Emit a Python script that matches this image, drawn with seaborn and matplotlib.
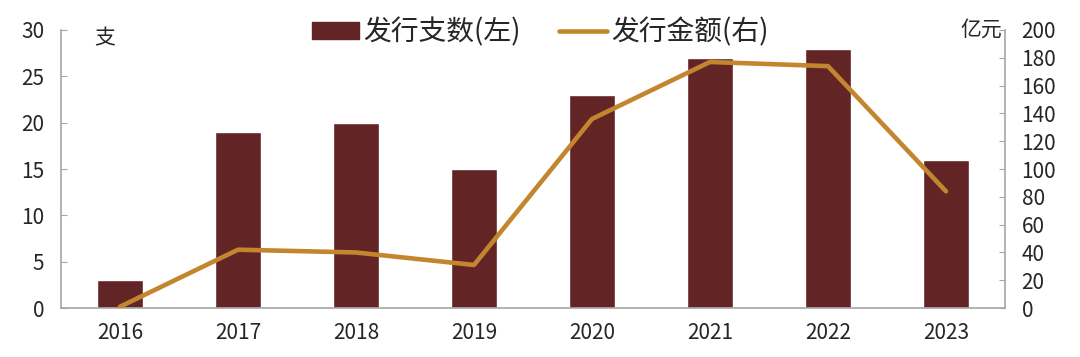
import matplotlib
matplotlib.use("Agg")
import matplotlib.pyplot as plt
import numpy as np
import pandas as pd
import seaborn as sns
from matplotlib.lines import Line2D
from matplotlib.patches import Patch

years = ["2016", "2017", "2018", "2019", "2020", "2021", "2022", "2023"]
counts = [3, 19, 20, 15, 23, 27, 28, 16]
amounts = [1, 42, 40, 31, 136, 177, 174, 84]

BAR_COLOR = "#632426"
LINE_COLOR = "#C3862F"
SPINE_COLOR = "#A6A6A6"

sns.set_style("white")
plt.rcParams["font.family"] = ["Noto Sans CJK SC", "DejaVu Sans"]

df = pd.DataFrame({"year": years, "pos": np.arange(len(years)),
                   "count": counts, "amount": amounts})

fig = plt.figure(figsize=(10.8, 3.57), dpi=100)
ax = fig.add_axes([0.0565, 0.137, 0.874, 0.779])

sns.barplot(data=df, x="pos", y="count", color=BAR_COLOR, width=0.39,
            saturation=1, ax=ax, native_scale=True)
ax.set_xlim(-0.5, len(years) - 0.5)
ax.set_ylim(0, 30)
ax.set_yticks(np.arange(0, 31, 5))

ax2 = ax.twinx()
sns.lineplot(data=df, x="pos", y="amount", color=LINE_COLOR, linewidth=3.3,
             ax=ax2)
ax2.set_ylim(0, 200)
ax2.set_yticks(np.arange(0, 201, 20))
ax.set_xlim(-0.5, len(years) - 0.5)

# category boundaries as ticks, labels at centres
ax.set_xticks(np.arange(0.5, len(years) - 0.5, 1))
ax.set_xticklabels([])
ax.set_xticks(np.arange(len(years)), minor=True)
ax.set_xticklabels(years, minor=True)
ax.tick_params(axis="x", which="major", direction="in", length=6,
               color=SPINE_COLOR, width=1)
ax.tick_params(axis="x", which="minor", length=0, pad=10, labelsize=15)
ax.tick_params(axis="y", direction="in", length=4, color=SPINE_COLOR,
               labelsize=15, pad=12)
ax2.tick_params(axis="y", direction="in", length=4, color=SPINE_COLOR,
                labelsize=15, pad=12)

for a in (ax, ax2):
    a.set_xlabel("")
    a.set_ylabel("")
    a.spines["top"].set_visible(False)
    for s in ("left", "right", "bottom"):
        a.spines[s].set_color(SPINE_COLOR)
        a.spines[s].set_linewidth(1.2)
ax.spines["right"].set_visible(False)
ax2.spines["left"].set_visible(False)
ax2.spines["bottom"].set_visible(False)

fig.text(0.097, 0.893, "支", fontsize=15, ha="center", va="center")
fig.text(0.928, 0.918, "亿元", fontsize=15, ha="right", va="center")

handles = [Patch(color=BAR_COLOR), Line2D([0], [0], color=LINE_COLOR, lw=3.3)]
fig.legend(handles, ["发行支数(左)", "发行金额(右)"], loc="center",
           bbox_to_anchor=(0.5, 0.91), ncol=2, frameon=False, fontsize=20,
           handlelength=1.7, handleheight=0.55, columnspacing=1.4,
           handletextpad=0.15)

fig.savefig("out.png", dpi=100)
